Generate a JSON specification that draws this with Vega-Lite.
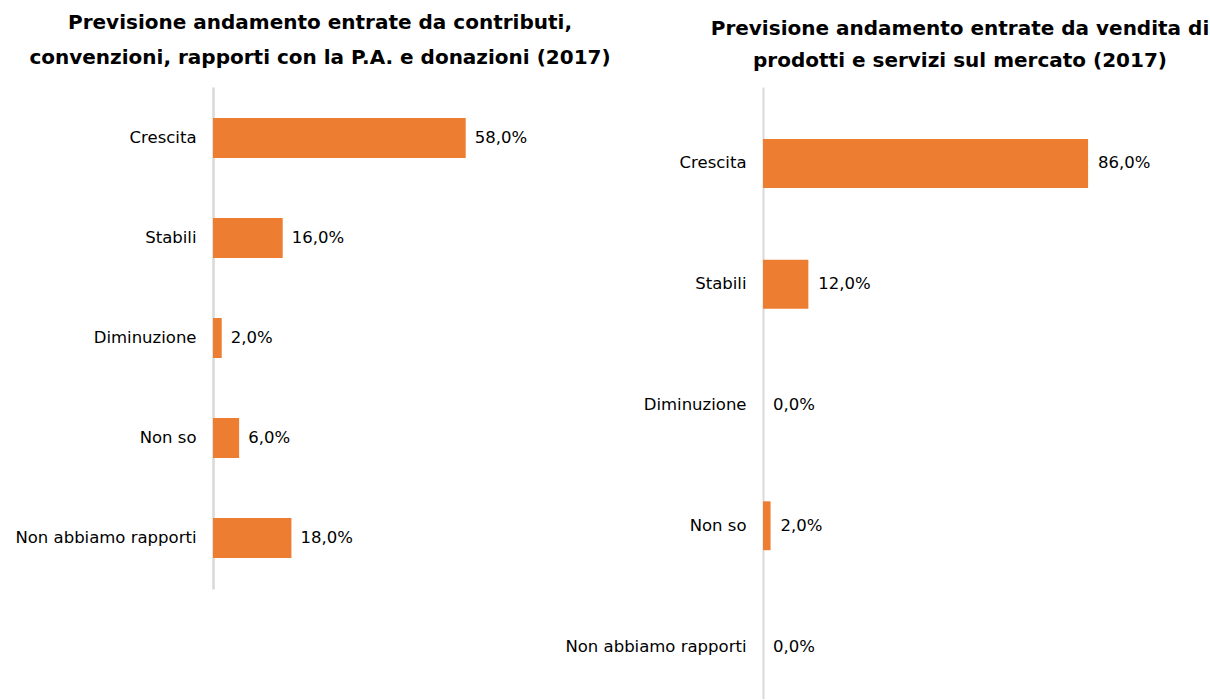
{
  "$schema": "https://vega.github.io/schema/vega-lite/v6.json",
  "background": "white",
  "padding": {"left": 5, "top": 13, "right": 0, "bottom": 0},
  "bounds": "flush",
  "spacing": 245,
  "config": {
    "locale": {"number": {"decimal": ",", "thousands": ".", "grouping": [3], "currency": ["€", ""]}},
    "view": {"stroke": null},
    "font": "DejaVu Sans"
  },
  "datasets": {
    "left": [
      {"categoria": "Crescita", "valore": 0.58},
      {"categoria": "Stabili", "valore": 0.16},
      {"categoria": "Diminuzione", "valore": 0.02},
      {"categoria": "Non so", "valore": 0.06},
      {"categoria": "Non abbiamo rapporti", "valore": 0.18}
    ],
    "right": [
      {"categoria": "Crescita", "valore": 0.86},
      {"categoria": "Stabili", "valore": 0.12},
      {"categoria": "Diminuzione", "valore": 0.0},
      {"categoria": "Non so", "valore": 0.02},
      {"categoria": "Non abbiamo rapporti", "valore": 0.0}
    ]
  },
  "hconcat": [
    {
      "width": 305,
      "height": 502,
      "title": {
        "text": ["Previsione andamento entrate da contributi,", "convenzioni, rapporti con la P.A. e donazioni (2017)"],
        "anchor": "start", "frame": "group", "align": "center", "dx": 107,
        "fontSize": 20, "fontWeight": "bold", "font": "DejaVu Sans", "color": "#000000",
        "lineHeight": 35, "offset": 19
      },
      "data": {"name": "left"},
      "encoding": {
        "y": {
          "field": "categoria", "type": "nominal",
          "sort": ["Crescita", "Stabili", "Diminuzione", "Non so", "Non abbiamo rapporti"],
          "scale": {"paddingInner": 0.6, "paddingOuter": 0.31},
          "axis": {
            "title": null, "ticks": false, "domain": true, "domainColor": "#D9D9D9", "domainWidth": 2.5,
            "labelPadding": 17, "labelFontSize": 16.5, "labelColor": "#000000", "labelFont": "DejaVu Sans",
            "labelLimit": 400, "minExtent": 208, "maxExtent": 208
          }
        },
        "x": {"field": "valore", "type": "quantitative", "scale": {"domain": [0, 0.7]}, "axis": null}
      },
      "layer": [
        {"mark": {"type": "bar", "color": "#ED7D31"}},
        {
          "mark": {"type": "text", "align": "left", "dx": 9, "fontSize": 16.5, "color": "#000000", "font": "DejaVu Sans"},
          "encoding": {"text": {"field": "valore", "type": "quantitative", "format": ".1%"}}
        }
      ]
    },
    {
      "width": 378,
      "height": 612,
      "title": {
        "text": ["Previsione andamento entrate da vendita di", "prodotti e servizi sul mercato (2017)"],
        "anchor": "start", "frame": "group", "align": "center", "dx": 197,
        "fontSize": 20, "fontWeight": "bold", "font": "DejaVu Sans", "color": "#000000",
        "lineHeight": 32, "offset": 16
      },
      "data": {"name": "right"},
      "encoding": {
        "y": {
          "field": "categoria", "type": "nominal",
          "sort": ["Crescita", "Stabili", "Diminuzione", "Non so", "Non abbiamo rapporti"],
          "scale": {"paddingInner": 0.595, "paddingOuter": 0.331, "align": 0.65},
          "axis": {
            "title": null, "ticks": false, "domain": true, "domainColor": "#D9D9D9", "domainWidth": 2,
            "labelPadding": 17, "labelFontSize": 16.5, "labelColor": "#000000", "labelFont": "DejaVu Sans",
            "labelLimit": 400, "minExtent": 170, "maxExtent": 170
          }
        },
        "x": {"field": "valore", "type": "quantitative", "scale": {"domain": [0, 1]}, "axis": null}
      },
      "layer": [
        {"mark": {"type": "bar", "color": "#ED7D31"}},
        {
          "mark": {"type": "text", "align": "left", "dx": 10, "fontSize": 16.5, "color": "#000000", "font": "DejaVu Sans"},
          "encoding": {"text": {"field": "valore", "type": "quantitative", "format": ".1%"}}
        }
      ]
    }
  ]
}
